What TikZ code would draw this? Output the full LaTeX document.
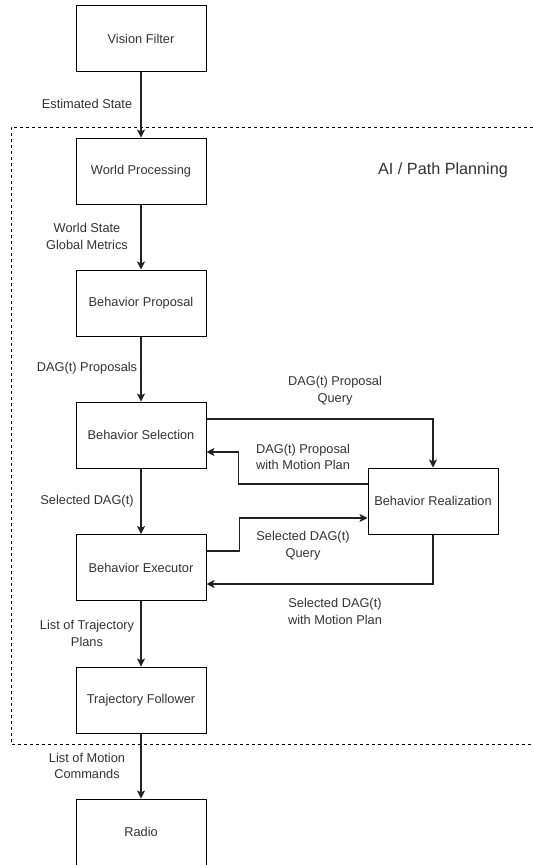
\documentclass[tikz,border=0pt]{standalone}
\usepackage{fontspec}
\setmainfont{Liberation Sans}
\usetikzlibrary{arrows.meta}
\definecolor{ink}{HTML}{333333}
\definecolor{edge}{HTML}{222222}
\tikzset{
  block/.style={draw=black, line width=1pt, fill=white, minimum width=130pt, minimum height=66pt,
    inner sep=0pt, text=ink, font=\fontsize{12.8}{15}\selectfont},
  flow/.style={draw=edge, line width=1.1pt, -{Stealth[length=8pt,width=8pt,inset=2pt]}},
  lbl/.style={text=ink, align=center, inner sep=0pt, font=\fontsize{12.8}{16.8}\selectfont},
  region/.style={draw=black, line width=0.8pt, dash pattern=on 3pt off 3pt}
}
\begin{document}
\begin{tikzpicture}[x=1pt,y=-1pt]
  \useasboundingbox (0,0) rectangle (533,865);
  \fill[white] (0,0) rectangle (533,865);
  \clip (0,0) rectangle (533,865);

  % planning region (open to the right)
  \draw[region] (545,127) -- (11,127) -- (11,744) -- (545,744);
  \node[text=ink, font=\fontsize{16.2}{19}\selectfont] (title) at (443,170) {AI / Path Planning};

  % blocks
  \node[block] (vf) at (141,38.5) {Vision Filter};
  \node[block] (wp) at (141,171) {World Processing};
  \node[block] (bp) at (141,303) {Behavior Proposal};
  \node[block] (bs) at (141,435) {Behavior Selection};
  \node[block] (be) at (141,567.5) {Behavior Executor};
  \node[block] (br) at (433,501) {Behavior Realization};
  \node[block] (tf) at (141,700) {Trajectory Follower};
  \node[block] (ra) at (141,832) {Radio};

  % main chain
  \draw[flow] (vf.south) -- (wp.north);
  \draw[flow] (wp.south) -- (bp.north);
  \draw[flow] (bp.south) -- (bs.north);
  \draw[flow] (bs.south) -- (be.north);
  \draw[flow] (be.south) -- (tf.north);
  \draw[flow] (tf.south) -- (ra.north);

  % exchanges with the realization block
  \draw[flow] ([yshift=16pt]bs.east) -| (br.north);
  \draw[flow] ([yshift=17pt]br.west) -- ++(-129,0) |- ([yshift=-17pt]bs.east);
  \draw[flow] ([yshift=16.5pt]be.east) -- ++(33,0) |- ([yshift=-17pt]br.west);
  \draw[flow] (br.south) |- ([yshift=-16.5pt]be.east);

  % edge labels
  \node[lbl] (l1) at (87,104) {Estimated State};
  \node[lbl] (l2) at (87,236.5) {World State\\Global Metrics};
  \node[lbl] (l3) at (87,368) {DAG(t) Proposals};
  \node[lbl] (l4) at (335,391) {DAG(t) Proposal\\Query};
  \node[lbl] (l5) at (303,457) {DAG(t) Proposal\\with Motion Plan};
  \node[lbl] (l6) at (87,501) {Selected DAG(t)};
  \node[lbl] (l7) at (303,546) {Selected DAG(t)\\Query};
  \node[lbl] (l8) at (335,611.5) {Selected DAG(t)\\with Motion Plan};
  \node[lbl] (l9) at (87,633.5) {List of Trajectory\\Plans};
  \node[lbl] (l10) at (87,766) {List of Motion\\Commands};
\end{tikzpicture}
\end{document}
